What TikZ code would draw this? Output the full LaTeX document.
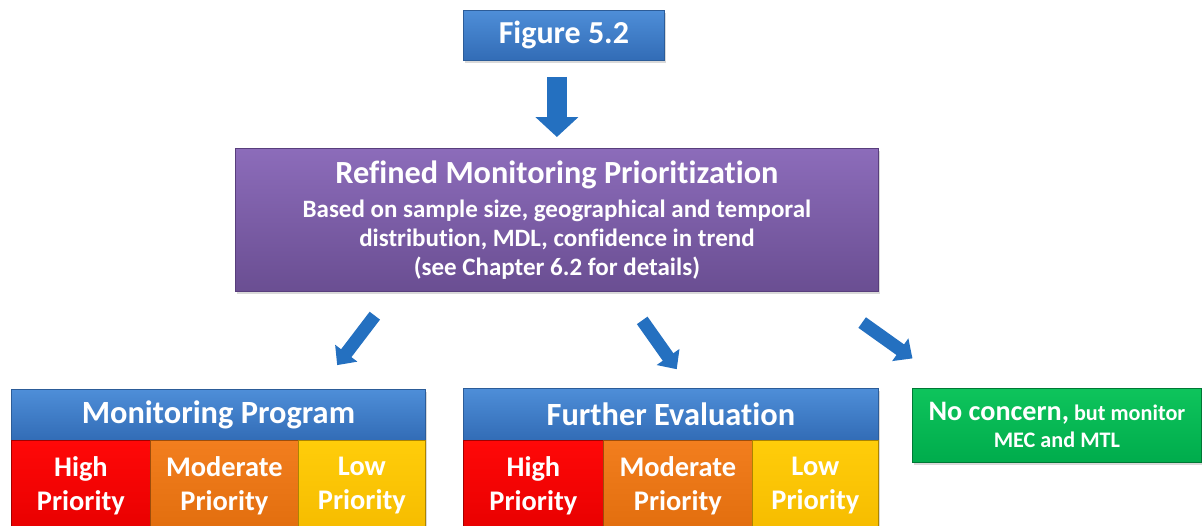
\documentclass[tikz,border=0pt]{standalone}
\usepackage{fontspec}
\setmainfont{Carlito}[Ligatures=NoCommon]
\usetikzlibrary{shadows, arrows.meta, positioning, calc}
\definecolor{figblue}{RGB}{78,142,216}
\definecolor{figbluedark}{RGB}{50,108,182}
\definecolor{figblueline}{RGB}{44,92,152}
\definecolor{refpurple}{RGB}{140,108,186}
\definecolor{refpurpledark}{RGB}{106,78,146}
\definecolor{refpurpleline}{RGB}{88,62,124}
\definecolor{prihigh}{RGB}{255,8,8}
\definecolor{prihighdark}{RGB}{232,0,0}
\definecolor{primod}{RGB}{242,126,30}
\definecolor{primoddark}{RGB}{226,110,14}
\definecolor{prilow}{RGB}{255,205,10}
\definecolor{prilowdark}{RGB}{246,188,0}
\definecolor{nogreen}{RGB}{14,196,92}
\definecolor{nogreendark}{RGB}{0,172,76}
\definecolor{arrowblue}{RGB}{36,112,192}

\tikzset{
  panel/.style={draw=#1, line width=0.8pt, text=white, align=center, inner sep=0pt,
    anchor=north west,
    drop shadow={shadow xshift=2pt, shadow yshift=-3pt, opacity=0.3}},
  bluebox/.style={panel=figblueline, top color=figblue, bottom color=figbluedark},
  purplebox/.style={panel=refpurpleline, top color=refpurple, bottom color=refpurpledark},
  highbox/.style={panel=prihighdark!70!black, top color=prihigh, bottom color=prihighdark},
  modbox/.style={panel=primoddark!70!black, top color=primod, bottom color=primoddark},
  lowbox/.style={panel=prilowdark!70!black, top color=prilow, bottom color=prilowdark},
  greenbox/.style={panel=nogreendark!70!black, top color=nogreen, bottom color=nogreendark},
  cellfont/.style={font=\bfseries\fontsize{28.4}{34}\selectfont},
  headfont/.style={font=\bfseries\fontsize{32.4}{36}\selectfont},
  bigarrow/.style={draw=arrowblue, line width=20pt, -{Triangle[width=42pt,length=20pt]}},
  smallarrow/.style={draw=arrowblue, line width=13pt, -{Triangle[width=27pt,length=15pt]}}
}

\begin{document}
\begin{tikzpicture}[x=1pt,y=-1pt]
\useasboundingbox (0,0) rectangle (1202,525);
% top
\node[bluebox, minimum width=201pt, minimum height=50pt,
      font=\bfseries\fontsize{32}{36}\selectfont] (fig) at (463,10) {Figure 5.2};
\node[purplebox, minimum width=643pt, minimum height=143pt,
      font=\bfseries\fontsize{25}{29}\selectfont] (refined) at (235,148)
  {{\fontsize{32.3}{33}\selectfont Refined Monitoring Prioritization}\\[5pt]
   Based on sample size, geographical and temporal\\
   distribution, MDL, confidence in trend\\
   (see Chapter 6.2 for details)};
% monitoring program
\node[bluebox, headfont, minimum width=414pt, minimum height=51pt] (monprog) at (11,389) {Monitoring Program};
\node[highbox, cellfont, minimum width=139pt, minimum height=90pt] (mphigh) at (11,440) {High\\Priority};
\node[modbox, cellfont, minimum width=148pt, minimum height=90pt] (mpmod) at (150,440) {Moderate\\Priority};
\node[lowbox, cellfont, minimum width=127pt, minimum height=90pt] (mplow) at (298,440) {Low\\Priority};
% further evaluation
\node[bluebox, headfont, minimum width=415pt, minimum height=52pt] (furtheval) at (463,388) {Further Evaluation};
\node[highbox, cellfont, minimum width=140pt, minimum height=90pt] (fehigh) at (463,440) {High\\Priority};
\node[modbox, cellfont, minimum width=149pt, minimum height=90pt] (femod) at (603,440) {Moderate\\Priority};
\node[lowbox, cellfont, minimum width=126pt, minimum height=90pt] (felow) at (752,440) {Low\\Priority};
% no concern
\node[greenbox, font=\bfseries\fontsize{22.2}{27}\selectfont, minimum width=289pt, minimum height=74pt] (noconcern) at (912,388)
  {{\fontsize{28.2}{27}\selectfont No concern,} but monitor\\ MEC and MTL};
% arrows
\draw[bigarrow, shorten <=16pt, shorten >=11pt] (refined.north |- fig.south) -- (refined.north);
\draw[smallarrow, shorten <=30pt, shorten >=30pt] ($(refined.south west)+(158,0)$) -- ($(monprog.north west)+(308,0)$);
\draw[smallarrow, shorten <=35pt, shorten >=23pt] ($(refined.south west)+(387,0)$) -- ($(furtheval.north west)+(227,0)$);
\draw[smallarrow, shorten <=53pt, shorten >=51pt] ($(refined.south west)+(584,0)$) -- ($(noconcern.north west)+(42,0)$);
\end{tikzpicture}
\end{document}
